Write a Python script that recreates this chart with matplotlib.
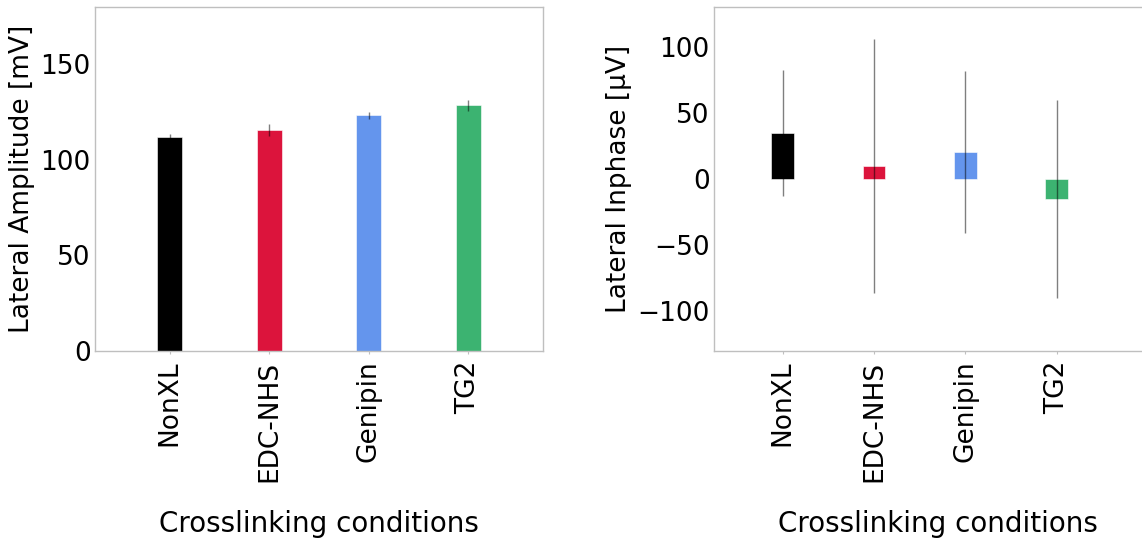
import matplotlib
matplotlib.use("Agg")
import matplotlib.pyplot as plt
import numpy as np

plt.rcParams.update(
    {
        "font.family": "DejaVu Sans",
        "font.size": 19,
        "axes.edgecolor": "#bfbfbf",
        "axes.linewidth": 1,
        "xtick.labelsize": 19,
        "ytick.labelsize": 19,
    }
)

# crosslinking conditions and their bar colours
conditions = ["NonXL", "EDC-NHS", "Genipin", "TG2"]
colors = ["black", "crimson", "cornflowerblue", "mediumseagreen"]

# lateral amplitude [mV], mean and spread
amp_mean = [112, 115.5, 123.3, 128.6]
amp_err = [1.5, 3.2, 1.8, 2.9]

# lateral inphase [uV], mean and spread
inph_mean = [35, 10, 20.5, -15]
inph_err = [47.5, 96, 61, 75]

x = np.arange(len(conditions))
bar_w = 0.25

fig = plt.figure(figsize=(11.42, 5.42), dpi=100)
ax_amp = fig.add_axes([95 / 1142, 191 / 542, 448 / 1142, 344 / 542])
ax_inph = fig.add_axes([714 / 1142, 191 / 542, 448 / 1142, 344 / 542])

## Amplitude panel
ax_amp.bar(x, amp_mean, width=bar_w, color=colors, edgecolor="white", linewidth=0.4)
ax_amp.errorbar(x, amp_mean, yerr=amp_err, fmt="none", ecolor="black", alpha=0.5, elinewidth=1)
ax_amp.set_xlim(-0.75, 3.75)
ax_amp.set_ylim(0, 180)
ax_amp.set_yticks([0, 50, 100, 150])
ax_amp.set_ylabel("Lateral Amplitude [mV]")

## Inphase panel
ax_inph.bar(x, inph_mean, width=bar_w, color=colors, edgecolor="white", linewidth=0.4)
ax_inph.errorbar(x, inph_mean, yerr=inph_err, fmt="none", ecolor="black", alpha=0.5, elinewidth=1)
ax_inph.set_xlim(-0.75, 4.15)
ax_inph.set_ylim(-130, 130)
ax_inph.set_yticks([-100, -50, 0, 50, 100])
ax_inph.set_ylabel("Lateral Inphase [μV]")

for ax in (ax_amp, ax_inph):
    ax.set_xticks(x)
    ax.set_xticklabels(conditions, rotation=90)
    ax.set_xlabel("Crosslinking conditions", fontsize=20, labelpad=20)
    ax.tick_params(axis="x", length=2, color="#bfbfbf", pad=5)
    ax.tick_params(axis="y", length=0, pad=3)

fig.savefig("out.png", dpi=100)
